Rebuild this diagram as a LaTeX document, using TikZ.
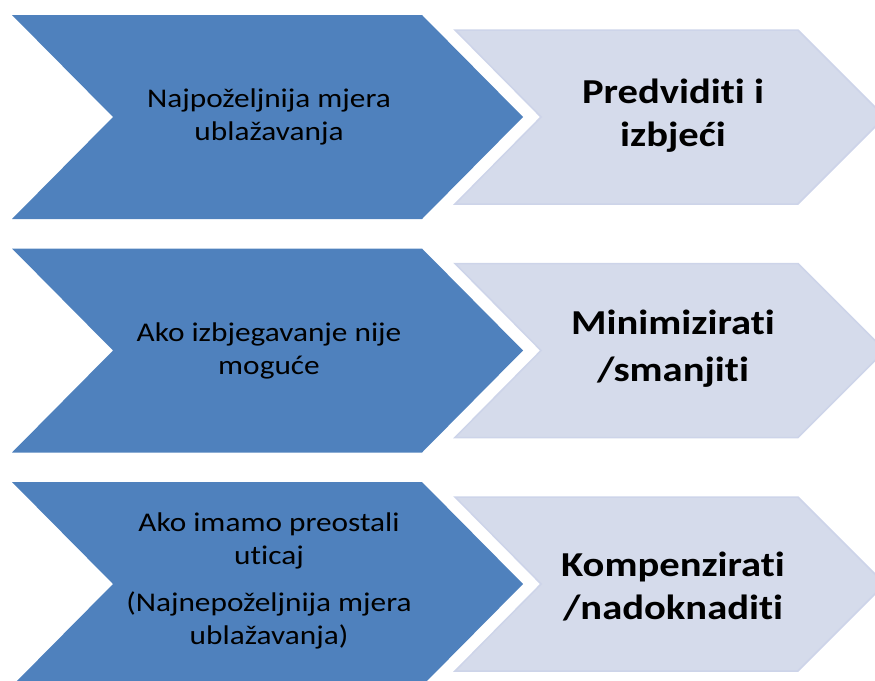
\documentclass[tikz,border=0pt]{standalone}
\usepackage{fontspec}
\setmainfont{Carlito}
\newfontfamily\leftfont[FakeStretch=1.16,Ligatures={NoCommon,NoRequired,NoContextual},RawFeature={-liga;-clig;-dlig;-calt}]{Carlito}
\newfontfamily\rightfont[FakeStretch=1.16,Ligatures={NoCommon,NoRequired,NoContextual},RawFeature={-liga;-clig;-dlig;-calt}]{Carlito Bold}
\definecolor{darkblue}{HTML}{4F81BD}
\definecolor{lightfill}{HTML}{D5DBEB}
\definecolor{lightedge}{HTML}{CDD4E9}
\tikzset{
  darkchev/.style={fill=darkblue, draw=none},
  lightchev/.style={fill=lightfill, draw=lightedge, line width=1.5pt, line join=miter},
  lefttext/.style={align=center, text=black, inner sep=0pt, font=\leftfont\fontsize{27}{33}\selectfont},
  righttext/.style={align=center, text=black, inner sep=0pt, font=\rightfont\fontsize{35}{43}\selectfont}
}
\begin{document}
\begin{tikzpicture}[x=1pt, y=-1pt]
\useasboundingbox (0,0) rectangle (875,680);
\clip (0,0) rectangle (875,680);
\foreach \T/\name in {15/a, 248.5/b, 482/c}{
  \pgfmathsetmacro{\M}{\T+102}
  \pgfmathsetmacro{\B}{\T+204}
  \pgfmathsetmacro{\LT}{\T+15}
  \pgfmathsetmacro{\LB}{\T+189}
  \fill[darkchev] (12,\T) -- (422,\T) -- (523,\M) -- (422,\B) -- (12,\B) -- (113,\M) -- cycle;
  \draw[lightchev] (455,\LT) -- (798,\LT) -- (885,\M) -- (798,\LB) -- (455,\LB) -- (541,\M) -- cycle;
  \coordinate (L\name) at (269,\M);
  \coordinate (R\name) at (673,\M);
}
\node[lefttext] (la) at (La) {Najpoželjnija mjera\\ublažavanja};
\node[righttext] (ra) at ([yshift=1]Ra) {Predviditi i\\izbjeći};
\node[lefttext] (lb) at (Lb) {Ako izbjegavanje nije\\moguće};
\node[righttext] (rb) at ([yshift=2]Rb) {Minimizirati\\[4pt]/smanjiti};
\node[lefttext] (lc) at ([yshift=3]Lc) {Ako imamo preostali\\uticaj\\[14pt](Najnepoželjnija mjera\\ublažavanja)};
\node[righttext] (rc) at ([yshift=-3]Rc) {Kompenzirati\\/nadoknaditi};
\end{tikzpicture}
\end{document}
